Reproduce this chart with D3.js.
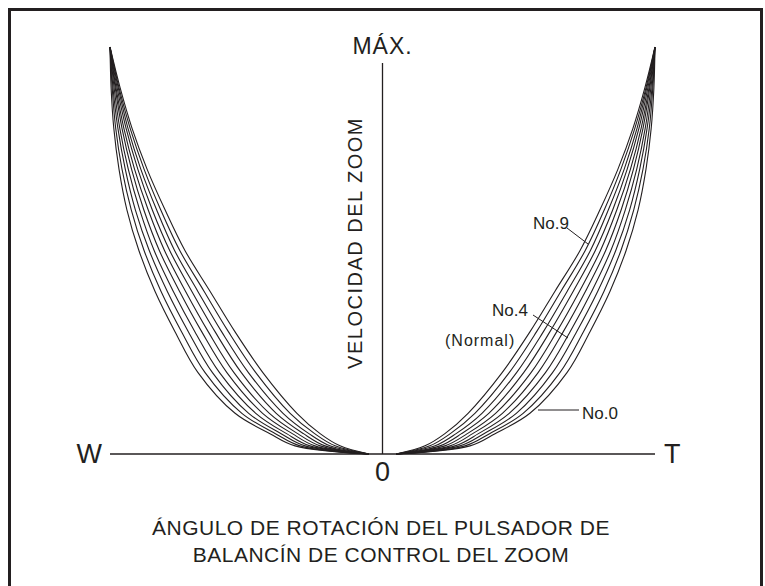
<!DOCTYPE html>
<html>
<head>
<meta charset="utf-8">
<script src="https://cdn.jsdelivr.net/npm/d3@7"></script>
<style>
  body { margin: 0; background: #fff; }
  svg text { fill: #231f20; }
</style>
</head>
<body>
<div id="chart"></div>
<script>
var svgWidth = 765;
var svgHeight = 586;

// speed levels (% of max) at which each curve's rotation angle is read
var speedLevels = [0, 2, 5, 10, 20, 30, 40, 50, 60, 70, 80, 90, 100];

// rotation angle (% of full tilt) for each speed level, one array per curve
var no0 = [5, 32.1, 41.3, 54.1, 67.7, 76.1, 83.5, 89.4, 93.8, 96.7, 98.6, 99.6, 100];
var no1 = [5, 30.3, 39.3, 51.6, 65.1, 73.7, 81.3, 87.5, 92.2, 95.6, 97.9, 99.2, 100];
var no2 = [5, 28.4, 37.2, 49.1, 62.4, 71.2, 79.0, 85.6, 90.7, 94.4, 97.1, 98.9, 100];
var no3 = [5, 26.6, 35.2, 46.5, 59.8, 68.8, 76.8, 83.8, 89.1, 93.3, 96.4, 98.5, 100];
var no4 = [5, 24.8, 33.1, 44.0, 57.1, 66.3, 74.5, 81.9, 87.6, 92.1, 95.6, 98.1, 100];
var no5 = [5, 22.9, 31.1, 41.5, 54.5, 63.9, 72.3, 80.0, 86.0, 91.0, 94.9, 97.8, 100];
var no6 = [5, 21.1, 29.0, 39.0, 51.8, 61.4, 70.0, 78.1, 84.5, 89.8, 94.1, 97.4, 100];
var no7 = [5, 19.3, 27.0, 36.5, 49.2, 59.0, 67.8, 76.3, 82.9, 88.7, 93.4, 97.0, 100];
var no8 = [5, 17.4, 24.9, 33.9, 46.5, 56.5, 65.5, 74.4, 81.4, 87.5, 92.6, 96.7, 100];
var no9 = [5, 15.6, 22.9, 31.4, 43.9, 54.1, 63.3, 72.5, 79.8, 86.4, 91.9, 96.3, 100];

var curves = [no0, no1, no2, no3, no4, no5, no6, no7, no8, no9];

var svg = d3.select("#chart")
  .append("svg")
  .attr("width", svgWidth)
  .attr("height", svgHeight);

var xScale = d3.scaleLinear().domain([-100, 100]).range([110, 655]);
var yScale = d3.scaleLinear().domain([0, 100]).range([454, 47]);

// frame
svg.append("rect")
  .attr("x", 9.5)
  .attr("y", 9.5)
  .attr("width", 752)
  .attr("height", 600)
  .attr("fill", "none")
  .attr("stroke", "#231f20")
  .attr("stroke-width", 3);

// axes
svg.append("line")
  .attr("x1", xScale(-100)).attr("x2", xScale(100))
  .attr("y1", yScale(0)).attr("y2", yScale(0))
  .attr("stroke", "#231f20").attr("stroke-width", 1.3);

svg.append("line")
  .attr("x1", xScale(0)).attr("x2", xScale(0))
  .attr("y1", yScale(0)).attr("y2", yScale(0) - 391)
  .attr("stroke", "#231f20").attr("stroke-width", 1.3);

var line = d3.line()
  .x(d => xScale(d[0]))
  .y(d => yScale(d[1]))
  .curve(d3.curveCatmullRom.alpha(0.5));

var curveGroup = svg.append("g")
  .attr("fill", "none")
  .attr("stroke", "#231f20")
  .attr("stroke-width", 1.1);

curves.forEach(function(angles) {
  var right = angles.map((a, i) => [a, speedLevels[i]]);
  var left = angles.map((a, i) => [-a, speedLevels[i]]);
  curveGroup.append("path").attr("d", line(right));
  curveGroup.append("path").attr("d", line(left));
});

// axis labels
var narrow = "'Liberation Sans Narrow', 'Liberation Sans', Arial, sans-serif";
var sans = "'Liberation Sans', Arial, sans-serif";

svg.append("text")
  .attr("x", xScale(-100) - 8).attr("y", yScale(0) + 9)
  .attr("text-anchor", "end")
  .attr("font-family", narrow).attr("font-size", 27)
  .text("W");

svg.append("text")
  .attr("x", xScale(100) + 9).attr("y", yScale(0) + 9)
  .attr("font-family", narrow).attr("font-size", 27)
  .text("T");

svg.append("text")
  .attr("x", xScale(0)).attr("y", yScale(0) + 27)
  .attr("text-anchor", "middle")
  .attr("font-family", narrow).attr("font-size", 27)
  .text("0");

svg.append("text")
  .attr("x", xScale(0)).attr("y", 54)
  .attr("text-anchor", "middle")
  .attr("font-family", narrow).attr("font-size", 23)
  .attr("letter-spacing", 1)
  .text("MÁX.");

svg.append("text")
  .attr("transform", `translate(362, 243) rotate(-90)`)
  .attr("text-anchor", "middle")
  .attr("font-family", sans).attr("font-size", 20)
  .attr("letter-spacing", 1.5)
  .text("VELOCIDAD DEL ZOOM");

// curve callouts
var callouts = [
  { label: "No.9", tx: 533, ty: 229, x1: 567, y1: 228, x2: 588, y2: 244 },
  { label: "No.4", tx: 492, ty: 316, x1: 533, y1: 315, x2: 568, y2: 338 },
  { label: "No.0", tx: 582, ty: 419, x1: 538, y1: 410, x2: 579, y2: 410 }
];

callouts.forEach(function(c) {
  svg.append("line")
    .attr("x1", c.x1).attr("y1", c.y1)
    .attr("x2", c.x2).attr("y2", c.y2)
    .attr("stroke", "#231f20").attr("stroke-width", 1);
  svg.append("text")
    .attr("x", c.tx).attr("y", c.ty)
    .attr("font-family", sans).attr("font-size", 17)
    .text(c.label);
});

svg.append("text")
  .attr("x", 445).attr("y", 346)
  .attr("font-family", sans).attr("font-size", 16)
  .attr("letter-spacing", 1)
  .text("(Normal)");

// bottom caption
var caption = ["ÁNGULO DE ROTACIÓN DEL PULSADOR DE", "BALANCÍN DE CONTROL DEL ZOOM"];
svg.append("g")
  .selectAll("text")
  .data(caption)
  .enter()
  .append("text")
  .attr("x", 381)
  .attr("y", (d, i) => 535 + i * 27)
  .attr("text-anchor", "middle")
  .attr("font-family", sans)
  .attr("font-size", 21)
  .attr("letter-spacing", 0.5)
  .text(d => d);
</script>
</body>
</html>
